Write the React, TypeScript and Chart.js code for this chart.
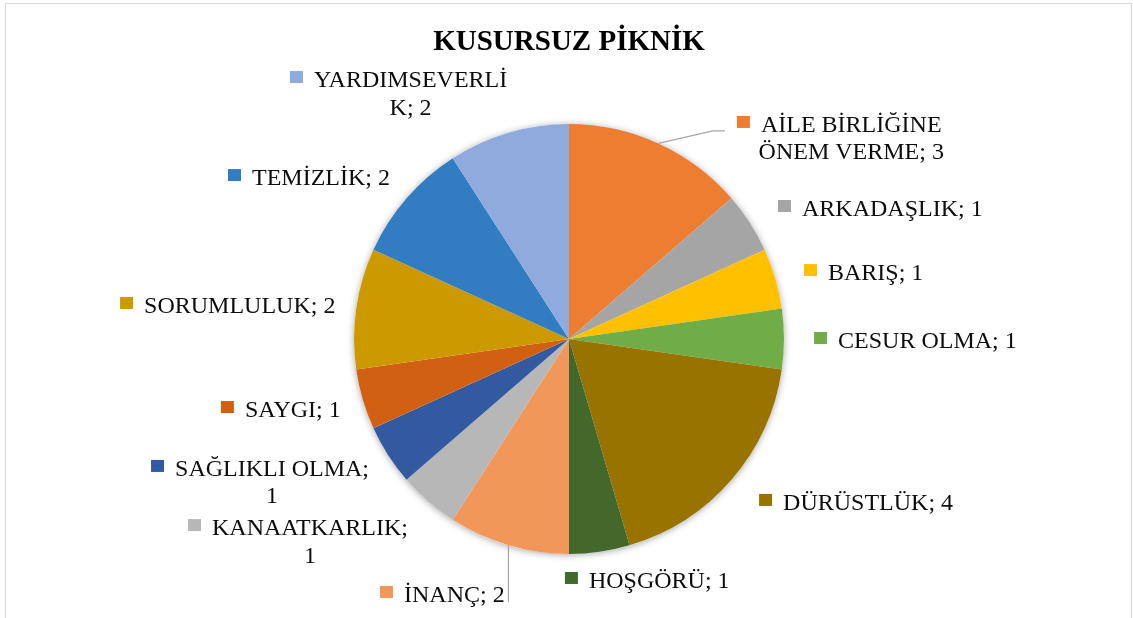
import React, { useEffect, useRef } from "react";
import { Chart, registerables } from "chart.js";

Chart.register(...registerables);

const chartTitle = "KUSURSUZ PİKNİK";

const categories = [
  "AİLE BİRLİĞİNE ÖNEM VERME",
  "ARKADAŞLIK",
  "BARIŞ",
  "CESUR OLMA",
  "DÜRÜSTLÜK",
  "HOŞGÖRÜ",
  "İNANÇ",
  "KANAATKARLIK",
  "SAĞLIKLI OLMA",
  "SAYGI",
  "SORUMLULUK",
  "TEMİZLİK",
  "YARDIMSEVERLİK",
];

const values = [3, 1, 1, 1, 4, 1, 2, 1, 1, 1, 2, 2, 2];

const sliceColors = [
  "#ED7D31",
  "#A5A5A5",
  "#FFC000",
  "#70AD47",
  "#997300",
  "#43682B",
  "#F1975A",
  "#B7B7B7",
  "#335AA1",
  "#D26012",
  "#CC9A00",
  "#327DC2",
  "#8FAADC",
];

// Label layout: marker-left x and first baseline y, in pie-radius units from the pie centre
const labelAnchors: [number, number][] = [
  [0.781, -0.963],
  [0.972, -0.572],
  [1.093, -0.274],
  [1.14, 0.042],
  [0.884, 0.795],
  [-0.019, 1.158],
  [-0.879, 1.223],
  [-1.772, 0.912],
  [-1.944, 0.637],
  [-1.619, 0.363],
  [-2.088, -0.121],
  [-1.586, -0.716],
  [-1.298, -1.172],
];

const leaderStyles: (string | null)[] = [
  "elbow", null, null, null, null, null, "down", null, null, null, null, null, null,
];

const FONT_FAMILY = '"Liberation Serif", "Times New Roman", serif';
const LABEL_FONT = `24px ${FONT_FAMILY}`;
const TITLE_FONT = `bold 29px ${FONT_FAMILY}`;
const WRAP_WIDTH = 205;
const LINE_HEIGHT = 27.5;

function wrapText(ctx: CanvasRenderingContext2D, text: string, maxW: number): string[] {
  const words = text.split(" ");
  const lines: string[] = [];
  let cur = "";
  for (const w of words) {
    const test = cur ? cur + " " + w : w;
    if (ctx.measureText(test).width <= maxW) {
      cur = test;
      continue;
    }
    if (cur) {
      lines.push(cur);
      cur = "";
    }
    if (ctx.measureText(w).width <= maxW) {
      cur = w;
      continue;
    }
    let piece = "";
    for (const ch of Array.from(w)) {
      if (piece && ctx.measureText(piece + ch).width > maxW) {
        lines.push(piece);
        piece = ch;
      } else {
        piece += ch;
      }
    }
    cur = piece;
  }
  if (cur) lines.push(cur);
  return lines;
}

const excelPlugin = {
  id: "excelPie",
  beforeDatasetsDraw(chart: any) {
    const meta = chart.getDatasetMeta(0);
    if (!meta.data.length) return;
    const { x, y, outerRadius } = meta.data[0].getProps(["x", "y", "outerRadius"], true);
    const ctx = chart.ctx as CanvasRenderingContext2D;
    ctx.save();
    ctx.beginPath();
    ctx.arc(x, y, outerRadius, 0, Math.PI * 2);
    ctx.fillStyle = "#ffffff";
    ctx.shadowColor = "rgba(0,0,0,0.35)";
    ctx.shadowBlur = 7;
    ctx.shadowOffsetY = 1;
    ctx.fill();
    ctx.restore();
  },
  afterDraw(chart: any) {
    const ctx = chart.ctx as CanvasRenderingContext2D;
    const meta = chart.getDatasetMeta(0);
    ctx.save();

    // chart frame
    ctx.strokeStyle = "#D9D9D9";
    ctx.lineWidth = 1;
    ctx.strokeRect(5.5, 3.5, 1126, 640);

    // title
    ctx.fillStyle = "#000000";
    ctx.font = TITLE_FONT;
    ctx.textAlign = "center";
    ctx.textBaseline = "alphabetic";
    const first = meta.data[0].getProps(["x", "y", "outerRadius"], true);
    ctx.fillText(chartTitle, first.x, 50);

    // labels
    ctx.font = LABEL_FONT;
    meta.data.forEach((arc: any, i: number) => {
      const p = arc.getProps(["x", "y", "outerRadius", "startAngle", "endAngle"], true);
      const r = p.outerRadius;
      const ax = p.x + labelAnchors[i][0] * r;
      const ay = p.y + labelAnchors[i][1] * r;
      const mid = (p.startAngle + p.endAngle) / 2;
      const ex = p.x + Math.cos(mid) * r;
      const ey = p.y + Math.sin(mid) * r;

      const style = leaderStyles[i];
      if (style) {
        ctx.strokeStyle = "#A6A6A6";
        ctx.lineWidth = 1.25;
        ctx.beginPath();
        ctx.moveTo(ex, ey);
        if (style === "elbow") {
          ctx.lineTo(ax - 24, ay - 1);
          ctx.lineTo(ax - 12, ay - 1);
        } else {
          ctx.lineTo(ex, ay);
        }
        ctx.stroke();
      }

      ctx.fillStyle = sliceColors[i];
      ctx.fillRect(ax, ay - 16, 13, 12);

      const text = `${categories[i]}; ${values[i]}`;
      const lines = wrapText(ctx, text, WRAP_WIDTH);
      const textStart = ax + 24;
      const w1 = ctx.measureText(lines[0]).width;
      const cx = textStart + w1 / 2;
      ctx.fillStyle = "#0D0D0D";
      ctx.textAlign = "center";
      lines.forEach((ln, j) => {
        ctx.fillText(ln, cx, ay + j * LINE_HEIGHT);
      });
    });
    ctx.restore();
  },
};

export default function App() {
  const canvasRef = useRef<HTMLCanvasElement | null>(null);

  useEffect(() => {
    if (!canvasRef.current) return;
    const chart = new Chart(canvasRef.current, {
      type: "pie",
      data: {
        labels: categories,
        datasets: [
          {
            data: values,
            backgroundColor: sliceColors,
            borderWidth: 0,
          },
        ],
      },
      options: {
        responsive: false,
        animation: false,
        devicePixelRatio: 1,
        layout: {
          padding: { left: 354, right: 349, top: 124, bottom: 64 },
        },
        plugins: {
          legend: { display: false },
          tooltip: { enabled: false },
          title: { display: false },
        },
      },
      plugins: [excelPlugin],
    });
    return () => chart.destroy();
  }, []);

  return (
    <div style={{ position: "fixed", left: 0, top: 0, width: 1133, height: 618, background: "#fff" }}>
      <canvas ref={canvasRef} width={1133} height={618} />
    </div>
  );
}
